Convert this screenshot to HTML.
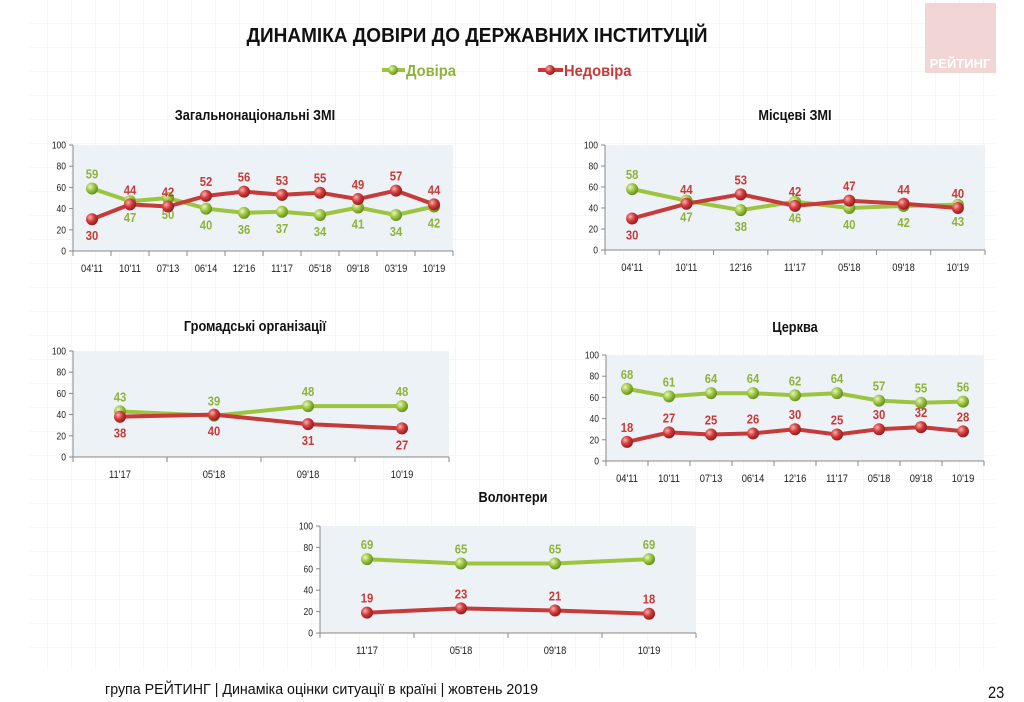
<!DOCTYPE html>
<html><head><meta charset="utf-8"><style>
body{margin:0;width:1024px;height:702px;overflow:hidden;background:#fff;font-family:"Liberation Sans",sans-serif}
svg{position:absolute;left:0;top:0}
</style></head><body>
<svg id="s" width="1024" height="702" xmlns="http://www.w3.org/2000/svg">
<defs>
<pattern id="grid" width="24" height="24" patternUnits="userSpaceOnUse"><path d="M24 0V24H0" fill="none" stroke="#eeeeee" stroke-width="1"/></pattern>
<radialGradient id="gg" cx="0.35" cy="0.35" r="0.7"><stop offset="0" stop-color="#e8f5c0"/><stop offset="0.5" stop-color="#9cc43e"/><stop offset="1" stop-color="#5f8a1c"/></radialGradient>
<radialGradient id="rg" cx="0.35" cy="0.35" r="0.7"><stop offset="0" stop-color="#f7b0b0"/><stop offset="0.5" stop-color="#d23a3a"/><stop offset="1" stop-color="#8e1a1a"/></radialGradient>
</defs>
<rect x="30" y="0" width="965" height="670" fill="url(#grid)"/>
<rect x="925" y="3" width="71" height="70" fill="#f2d5d5"/>
<text x="960" y="68" text-anchor="middle" font-size="13" font-weight="bold" fill="#fff">РЕЙТИНГ</text>
<text x="477" y="42" text-anchor="middle" font-size="20" font-weight="bold" fill="#111" transform="translate(477 0) scale(0.95 1) translate(-477 0)">ДИНАМІКА ДОВІРИ ДО ДЕРЖАВНИХ ІНСТИТУЦІЙ</text>
<line x1="382" y1="70" x2="405" y2="70" stroke="#9cc43e" stroke-width="4"/><circle cx="393" cy="70" r="5" fill="url(#gg)"/>
<text x="406" y="76" font-size="16" font-weight="bold" fill="#8fb33a" transform="translate(406 0) scale(0.92 1) translate(-406 0)">Довіра</text>
<line x1="538" y1="70" x2="563" y2="70" stroke="#c63a3a" stroke-width="4"/><circle cx="550" cy="70" r="5" fill="url(#rg)"/>
<text x="564" y="76" font-size="16" font-weight="bold" fill="#c63a3a" transform="translate(564 0) scale(0.92 1) translate(-564 0)">Недовіра</text>
<text x="255" y="120" text-anchor="middle" font-size="15" font-weight="bold" fill="#111" transform="translate(255 0) scale(0.85 1) translate(-255 0)">Загальнонаціональні ЗМІ</text>
<text x="795" y="120" text-anchor="middle" font-size="15" font-weight="bold" fill="#111" transform="translate(795 0) scale(0.85 1) translate(-795 0)">Місцеві ЗМІ</text>
<text x="255" y="331" text-anchor="middle" font-size="15" font-weight="bold" fill="#111" transform="translate(255 0) scale(0.85 1) translate(-255 0)">Громадські організації</text>
<text x="795" y="332" text-anchor="middle" font-size="15" font-weight="bold" fill="#111" transform="translate(795 0) scale(0.85 1) translate(-795 0)">Церква</text>
<text x="513" y="502" text-anchor="middle" font-size="15" font-weight="bold" fill="#111" transform="translate(513 0) scale(0.85 1) translate(-513 0)">Волонтери</text>
<text x="105" y="694" font-size="15" fill="#111" transform="translate(105 0) scale(0.95 1) translate(-105 0)">група РЕЙТИНГ | Динаміка оцінки ситуації в країні | жовтень 2019</text>
<text x="988" y="698" font-size="17" fill="#111" transform="translate(988 0) scale(0.86 1) translate(-988 0)">23</text>
<g id="charts"></g>
</svg>
<script>
var C=[
{x:73,w:380,t:145,b:251,cats:["04'11","10'11","07'13","06'14","12'16","11'17","05'18","09'18","03'19","10'19"],
 g:[59,47,50,40,36,37,34,41,34,42],r:[30,44,42,52,56,53,55,49,57,44],
 gp:[-1,1,1,1,1,1,1,1,1,1],rp:[1,-1,-1,-1,-1,-1,-1,-1,-1,-1]},
{x:605,w:380,t:145,b:250,cats:["04'11","10'11","12'16","11'17","05'18","09'18","10'19"],
 g:[58,47,38,46,40,42,43],r:[30,44,53,42,47,44,40],
 gp:[-1,1,1,1,1,1,1],rp:[1,-1,-1,-1,-1,-1,-1]},
{x:73,w:376,t:351,b:457,cats:["11'17","05'18","09'18","10'19"],
 g:[43,39,48,48],r:[38,40,31,27],gp:[-1,-1,-1,-1],rp:[1,1,1,1]},
{x:606,w:378,t:355,b:461,cats:["04'11","10'11","07'13","06'14","12'16","11'17","05'18","09'18","10'19"],
 g:[68,61,64,64,62,64,57,55,56],r:[18,27,25,26,30,25,30,32,28],
 gp:[-1,-1,-1,-1,-1,-1,-1,-1,-1],rp:[-1,-1,-1,-1,-1,-1,-1,-1,-1]},
{x:320,w:376,t:526,b:633,cats:["11'17","05'18","09'18","10'19"],
 g:[69,65,65,69],r:[19,23,21,18],gp:[-1,-1,-1,-1],rp:[-1,-1,-1,-1]}
];
var h='';
C.forEach(function(c){
 var n=c.cats.length,sp=c.w/n,H=c.b-c.t;
 h+='<rect x="'+c.x+'" y="'+c.t+'" width="'+c.w+'" height="'+H+'" fill="#edf2f6"/>';
 h+='<line x1="'+c.x+'" y1="'+c.t+'" x2="'+c.x+'" y2="'+c.b+'" stroke="#888"/>';
 h+='<line x1="'+c.x+'" y1="'+c.b+'" x2="'+(c.x+c.w)+'" y2="'+c.b+'" stroke="#888"/>';
 for(var v=0;v<=100;v+=20){var y=c.b-H*v/100;
  h+='<line x1="'+(c.x-4)+'" y1="'+y+'" x2="'+c.x+'" y2="'+y+'" stroke="#888"/>';
  h+='<text x="'+(c.x-7)+'" y="'+(y+3.5)+'" text-anchor="end" font-size="10" fill="#222" transform="translate('+(c.x-7)+' 0) scale(0.85 1) translate('+(-(c.x-7))+' 0)">'+v+'</text>';}
 for(var i=0;i<=n;i++){var xx=c.x+i*sp;h+='<line x1="'+xx+'" y1="'+c.b+'" x2="'+xx+'" y2="'+(c.b+5)+'" stroke="#888"/>';}
 var X=function(i){return c.x+sp*(i+0.5)},Y=function(v){return c.b-H*v/100};
 [['g','#9cc43e'],['r','#c63a3a']].forEach(function(s){
  var d=c[s[0]],pts=d.map(function(v,i){return X(i).toFixed(1)+','+Y(v).toFixed(1)}).join(' ');
  h+='<polyline points="'+pts+'" fill="none" stroke="'+s[1]+'" stroke-width="4" stroke-linejoin="round"/>';
 });
 [['g','#8fb33a','gg','gp'],['r','#c63a3a','rg','rp']].forEach(function(s){
  c[s[0]].forEach(function(v,i){var x=X(i),y=Y(v);
   h+='<circle cx="'+x+'" cy="'+y+'" r="6" fill="url(#'+s[2]+')"/>';
   var ly=c[s[3]][i]<0?y-10:y+21;
   h+='<text x="'+x+'" y="'+ly+'" text-anchor="middle" font-size="12.5" font-weight="bold" fill="'+s[1]+'" transform="translate('+x+' 0) scale(0.9 1) translate('+(-x)+' 0)">'+v+'</text>';
  });
 });
 c.cats.forEach(function(t,i){var x=X(i);
  h+='<text x="'+x+'" y="'+(c.b+21)+'" text-anchor="middle" font-size="11" fill="#222" transform="translate('+x+' 0) scale(0.85 1) translate('+(-x)+' 0)">'+t+'</text>';});
});
document.getElementById('charts').innerHTML=h;
</script>
</body></html>
